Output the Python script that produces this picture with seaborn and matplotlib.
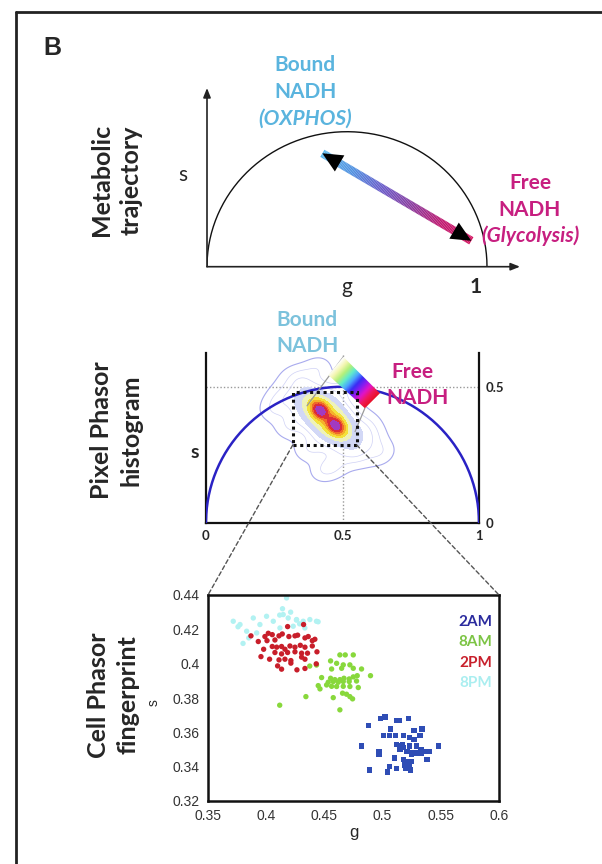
import numpy as np
import pandas as pd
import matplotlib
matplotlib.use("Agg")
import matplotlib.pyplot as plt
import seaborn as sns
from matplotlib.collections import LineCollection
from matplotlib.colors import LinearSegmentedColormap
from matplotlib.lines import Line2D
from matplotlib.patches import Polygon, Rectangle, ConnectionPatch

W, H = 602, 864

# ── Cell phasor fingerprint (g, s) ───────────────────────────────────────────
pts_2am = [(0.498, 0.368), (0.502, 0.369), (0.512, 0.367), (0.514, 0.367), (0.522, 0.368),
           (0.488, 0.364), (0.507, 0.362), (0.527, 0.361), (0.534, 0.362), (0.501, 0.358),
           (0.506, 0.358), (0.511, 0.358), (0.518, 0.358), (0.523, 0.357), (0.527, 0.356),
           (0.532, 0.358), (0.482, 0.352), (0.497, 0.349), (0.497, 0.347), (0.512, 0.353),
           (0.515, 0.352), (0.517, 0.353), (0.518, 0.351), (0.523, 0.352), (0.529, 0.352),
           (0.533, 0.350), (0.537, 0.349), (0.540, 0.349), (0.548, 0.352), (0.515, 0.350),
           (0.521, 0.349), (0.525, 0.348), (0.525, 0.347), (0.529, 0.348), (0.533, 0.348),
           (0.510, 0.345), (0.518, 0.344), (0.521, 0.343), (0.525, 0.343), (0.519, 0.341),
           (0.523, 0.341), (0.520, 0.339), (0.524, 0.338), (0.506, 0.340), (0.512, 0.339),
           (0.504, 0.337), (0.489, 0.338), (0.538, 0.344)]
pts_8am = [(0.4633, 0.4051), (0.4679, 0.4051), (0.4748, 0.4051), (0.4553, 0.4016), (0.4605, 0.4002),
           (0.4662, 0.3993), (0.4719, 0.3993), (0.4648, 0.3973), (0.4748, 0.3973), (0.4819, 0.3969),
           (0.4562, 0.3969), (0.4476, 0.3919), (0.4553, 0.3915), (0.4590, 0.3907), (0.4633, 0.3907),
           (0.4668, 0.3915), (0.4713, 0.3911), (0.4748, 0.3923), (0.4782, 0.3930), (0.4896, 0.3930),
           (0.4533, 0.3892), (0.4576, 0.3896), (0.4619, 0.3892), (0.4662, 0.3896), (0.4713, 0.3896),
           (0.4776, 0.3899), (0.4447, 0.3872), (0.4519, 0.3876), (0.4562, 0.3868), (0.4605, 0.3867),
           (0.4662, 0.3868), (0.4719, 0.3867), (0.4791, 0.3861), (0.4462, 0.3853), (0.4656, 0.3828),
           (0.4690, 0.3822), (0.4719, 0.3808), (0.4341, 0.3808), (0.4576, 0.3802), (0.4742, 0.3795),
           (0.4633, 0.3731), (0.4116, 0.3758), (0.4374, 0.3986), (0.4432, 0.3992)]
pts_2pm = [(0.3869, 0.4162), (0.3932, 0.4129), (0.3989, 0.4158), (0.4018, 0.4177), (0.4052, 0.4169),
           (0.4007, 0.4134), (0.4075, 0.4138), (0.4110, 0.4162), (0.4138, 0.4173), (0.4184, 0.4216),
           (0.4195, 0.4158), (0.4247, 0.4162), (0.4270, 0.4166), (0.4321, 0.4228), (0.4333, 0.4150),
           (0.4361, 0.4158), (0.4396, 0.4134), (0.4418, 0.4142), (0.3978, 0.4084), (0.4052, 0.4100),
           (0.4090, 0.4096), (0.4132, 0.4100), (0.4161, 0.4084), (0.4204, 0.4103), (0.4247, 0.4096),
           (0.4293, 0.4107), (0.4333, 0.4096), (0.4396, 0.4103), (0.4436, 0.4069), (0.4075, 0.4065),
           (0.4132, 0.4057), (0.4184, 0.4065), (0.4247, 0.4069), (0.4304, 0.4061), (0.4355, 0.4061),
           (0.3955, 0.4041), (0.4029, 0.4026), (0.4110, 0.4022), (0.4161, 0.4026), (0.4212, 0.4018),
           (0.4304, 0.4038), (0.4333, 0.4026), (0.4430, 0.3999), (0.4098, 0.3987), (0.4132, 0.3968),
           (0.4212, 0.4003), (0.4264, 0.3964), (0.4333, 0.3972)]
pts_8pm = [(0.4175, 0.4383), (0.3717, 0.4247), (0.3775, 0.4228), (0.3889, 0.4266), (0.4003, 0.4276),
           (0.4061, 0.4247), (0.4146, 0.4286), (0.4189, 0.4266), (0.4261, 0.4257), (0.4318, 0.4247),
           (0.4375, 0.4257), (0.4432, 0.4247), (0.3946, 0.4228), (0.4118, 0.4208), (0.4232, 0.4218),
           (0.4332, 0.4208), (0.3832, 0.4189), (0.3918, 0.4179), (0.3758, 0.4215), (0.3801, 0.4118),
           (0.4116, 0.4283), (0.4260, 0.4254), (0.4446, 0.4244), (0.4140, 0.4320), (0.4210, 0.4300),
           (0.4287, 0.4232), (0.3850, 0.4150)]

time_labels = ["2AM", "8AM", "2PM", "8PM"]
point_colors = {"2AM": "#2f4db5", "8AM": "#88d83c", "2PM": "#c81e2a", "8PM": "#b2f2f2"}
point_markers = {"2AM": "s", "8AM": "o", "2PM": "o", "8PM": "o"}
legend_colors = ["#2b2b9e", "#7cc444", "#c8202c", "#aaeef0"]

# ── Pixel phasor histogram: blob centres (g, s) ──────────────────────────────
core_g = [0.418, 0.475]
core_s = [0.414, 0.357]
body_g, body_s = 0.446, 0.386
haze_g = [0.28, 0.34, 0.41, 0.31, 0.38, 0.47, 0.55, 0.64, 0.50, 0.58, 0.25, 0.43, 0.36, 0.60]
haze_s = [0.46, 0.53, 0.57, 0.36, 0.27, 0.21, 0.26, 0.26, 0.50, 0.35, 0.42, 0.19, 0.44, 0.31]

# cursor box, beam polygon and trajectory arrow
zoom_box = (0.318, 0.286, 0.552, 0.479)          # g0, s0, g1, s1
beam_g = [0.503, 0.637, 0.582, 0.448]
beam_s = [0.610, 0.476, 0.421, 0.543]
traj_tip_bound = (0.412, 0.420)
traj_tip_free = (0.944, 0.096)

sns.set_style("white")
plt.rcParams["font.family"] = ["Lato", "DejaVu Sans"]

fig = plt.figure(figsize=(W / 100, H / 100), dpi=100)


def px_axes(x0, y0, x1, y1):
    return fig.add_axes([x0 / W, 1 - y1 / H, (x1 - x0) / W, (y1 - y0) / H])


def ftext(x, y, s, **kw):
    fig.text(x / W, 1 - y / H, s, **kw)


# outer frame (cut at right/bottom edges)
fig.add_artist(Line2D([16 / W, 16 / W], [0, 1 - 12 / H], color="#222", lw=2))
fig.add_artist(Line2D([16 / W, 1], [1 - 12 / H, 1 - 12 / H], color="#222", lw=2))
ftext(52, 48, "B", fontsize=18, fontweight="bold", family="Liberation Sans", ha="center", va="center")

# ── Panel 1: metabolic trajectory ────────────────────────────────────────────
ax1 = px_axes(207, 88, 520, 266.7)
ax1.set_xlim(0, 313 / 280)
ax1.set_ylim(0, 178.7 / 270)
ax1.axis("off")
arrow_kw = dict(arrowstyle="-|>,head_length=0.55,head_width=0.22", color="#222", lw=1.2,
                shrinkA=0, shrinkB=0)
ax1.annotate("", xy=(313 / 280, 0), xytext=(0, 0), arrowprops=arrow_kw, annotation_clip=False)
ax1.annotate("", xy=(0, 178.7 / 270), xytext=(0, 0), arrowprops=arrow_kw, annotation_clip=False)
theta = np.linspace(0, np.pi, 200)
ax1.plot(0.5 + 0.5 * np.cos(theta), 0.5 * np.sin(theta), color="#111", lw=1)

traj_cmap = LinearSegmentedColormap.from_list(
    "traj", ["#5ab8ec", "#4f8fe0", "#6a5ac8", "#8a3a9c", "#c0186e", "#d4105e"])
t = np.linspace(0, 1, 120)
xs = traj_tip_bound[0] + t * (traj_tip_free[0] - traj_tip_bound[0])
ys = traj_tip_bound[1] + t * (traj_tip_free[1] - traj_tip_bound[1])
segs = np.stack([np.column_stack([xs[:-1], ys[:-1]]), np.column_stack([xs[1:], ys[1:]])], axis=1)
lc = LineCollection(segs, colors=traj_cmap(t[:-1]), lw=6, capstyle="butt")
ax1.add_collection(lc)
head_kw = dict(arrowstyle="-|>,head_length=0.9,head_width=0.42", color="black", lw=0,
               mutation_scale=16, shrinkA=0, shrinkB=0)
d = np.array(traj_tip_free) - np.array(traj_tip_bound)
ax1.annotate("", xy=traj_tip_bound, xytext=tuple(np.array(traj_tip_bound) + 0.1 * d), arrowprops=head_kw)
ax1.annotate("", xy=traj_tip_free, xytext=tuple(np.array(traj_tip_free) - 0.1 * d), arrowprops=head_kw)

ftext(183, 175, "s", fontsize=15, ha="center", va="center")
ftext(347, 287, "g", fontsize=15, ha="center", va="center")
ftext(476, 287, "1", fontsize=15, ha="center", va="center", fontweight="bold")
ftext(305, 65, "Bound", fontsize=15, fontweight="bold", color="#5ab4de", ha="center", va="center")
ftext(305, 92, "NADH", fontsize=15, fontweight="bold", color="#5ab4de", ha="center", va="center")
ftext(305, 119, "(OXPHOS)", fontsize=15, fontweight="bold", style="italic", color="#5ab4de",
      ha="center", va="center")
ftext(530, 183, "Free", fontsize=15, fontweight="bold", color="#c71f80", ha="center", va="center")
ftext(530, 210, "NADH", fontsize=15, fontweight="bold", color="#c71f80", ha="center", va="center")
ftext(530, 236, "(Glycolysis)", fontsize=15, fontweight="bold", style="italic", color="#c71f80",
      ha="center", va="center")
ftext(116, 180, "Metabolic\ntrajectory", fontsize=18, fontweight="bold", rotation=90,
      ha="center", va="center", linespacing=1.35)

# ── Panel 2: pixel phasor histogram ──────────────────────────────────────────
ax2 = px_axes(206, 353.3, 479, 522.7)
ax2.set_xlim(0, 1)
ax2.set_ylim(0, 0.623)
for side in ["left", "right", "bottom"]:
    ax2.spines[side].set_color("#111")
    ax2.spines[side].set_linewidth(1.6)
ax2.spines["top"].set_visible(False)
ax2.set_xticks([0, 0.5, 1])
ax2.set_xticklabels(["0", "0.5", "1"], fontweight="bold", fontsize=9.5)
ax2.yaxis.tick_right()
ax2.set_yticks([0, 0.5])
ax2.set_yticklabels(["0", "0.5"], fontweight="bold", fontsize=9.5)
ax2.tick_params(length=0, pad=5)

ax2.axhline(0.5, color="#999", lw=1, ls=(0, (1, 1.5)))
ax2.axvline(0.5, color="#999", lw=1, ls=(0, (1, 1.5)))
ax2.plot(0.5 + 0.5 * np.cos(theta), 0.5 * np.sin(theta), color="#2a22c4", lw=1.8, zorder=3)


def blob(X, Y, g0, s0, sa, sb, ang=-np.pi / 4):
    c, sn = np.cos(ang), np.sin(ang)
    u = (X - g0) * c + (Y - s0) * sn
    v = -(X - g0) * sn + (Y - s0) * c
    return np.exp(-0.5 * (u / sa) ** 2 - 0.5 * (v / sb) ** 2)


gx, gy = np.meshgrid(np.linspace(0.1, 0.8, 420), np.linspace(0.05, 0.65, 420))
Z = 0.45 * blob(gx, gy, body_g, body_s, 0.085, 0.045)
for g0, s0 in zip(core_g, core_s):
    Z += blob(gx, gy, g0, s0, 0.024, 0.018)
Z += 0.05 * blob(gx, gy, 0.44, 0.38, 0.17, 0.11, -0.5)
for g0, s0 in zip(haze_g, haze_s):
    Z += 0.045 * blob(gx, gy, g0, s0, 0.036, 0.030, 0.3)
Z /= Z.max()
ax2.contour(gx, gy, Z, levels=[0.022], colors="#a9abee", linewidths=0.8, zorder=2)
ax2.contour(gx, gy, Z, levels=[0.05, 0.08], colors="#cfd1f5", linewidths=0.5, zorder=2)
fill_levels = [0.12, 0.19, 0.28, 0.4, 0.53, 0.66, 0.82, 1.01]
fill_colors = ["#d2d8f6", "#eef2b8", "#f3e23c", "#f5b02c", "#f06a2a", "#dc2c3a", "#a23ac0"]
ax2.contourf(gx, gy, Z, levels=fill_levels, colors=fill_colors, zorder=2)

# beam with rainbow gradient
beam = Polygon(np.column_stack([beam_g, beam_s]), closed=True, fc="none", ec="none")
ax2.add_patch(beam)
bx, by = np.meshgrid(np.linspace(0.44, 0.64, 200), np.linspace(0.41, 0.62, 200))
p0 = np.array([(beam_g[0] + beam_g[3]) / 2, (beam_s[0] + beam_s[3]) / 2])
p1 = np.array([(beam_g[1] + beam_g[2]) / 2, (beam_s[1] + beam_s[2]) / 2])
dv = p1 - p0
tt = ((bx - p0[0]) * dv[0] + (by - p0[1]) * dv[1]) / (dv @ dv)
beam_cmap = LinearSegmentedColormap.from_list(
    "beam", ["#ffffff", "#f4f6b0", "#b4f07a", "#60eccc", "#4aa4ff", "#3a2cf4",
             "#8a1cf0", "#e014c8", "#f0185a", "#e81028"])
im = ax2.imshow(np.clip(tt, 0, 1), extent=(0.44, 0.64, 0.41, 0.62), origin="lower",
                cmap=beam_cmap, aspect="auto", zorder=4, interpolation="bilinear")
im.set_clip_path(beam)
ax2.plot([beam_g[0], 0.37], [beam_s[0], 0.43], color="#9a9a9a", lw=0.9, zorder=3)
ax2.plot([beam_g[2], 0.546], [beam_s[2], 0.335], color="#9a9a9a", lw=0.9, zorder=3)

ax2.add_patch(Rectangle((zoom_box[0], zoom_box[1]), zoom_box[2] - zoom_box[0],
                        zoom_box[3] - zoom_box[1], fill=False, ec="#111", lw=2.2,
                        ls=(0, (1, 1.2)), zorder=5))

ftext(307, 320, "Bound", fontsize=15, fontweight="bold", color="#7cc2dc", ha="center", va="center")
ftext(307, 346, "NADH", fontsize=15, fontweight="bold", color="#7cc2dc", ha="center", va="center")
ftext(412, 372, "Free", fontsize=15, fontweight="bold", color="#c71f80", ha="center", va="center")
ftext(418, 398, "NADH", fontsize=15, fontweight="bold", color="#c71f80", ha="center", va="center")
ftext(195, 452, "s", fontsize=14, fontweight="bold", ha="center", va="center")
ftext(116, 430, "Pixel Phasor\nhistogram", fontsize=18, fontweight="bold", rotation=90,
      ha="center", va="center", linespacing=1.35)

# ── Panel 3: cell phasor fingerprint ─────────────────────────────────────────
ax3 = px_axes(208, 595, 499, 801)
rows = []
for lab, pts in zip(["8PM", "8AM", "2PM", "2AM"], [pts_8pm, pts_8am, pts_2pm, pts_2am]):
    rows += [{"g": g, "s": s, "time": lab} for g, s in pts]
df = pd.DataFrame(rows)
sns.scatterplot(data=df, x="g", y="s", hue="time", style="time", palette=point_colors,
                markers=point_markers, s=15, linewidth=0, legend=False, ax=ax3)
ax3.set_xlim(0.35, 0.6)
ax3.set_ylim(0.32, 0.44)
ax3.set_xticks([0.35, 0.4, 0.45, 0.5, 0.55, 0.6])
ax3.set_xticklabels(["0.35", "0.4", "0.45", "0.5", "0.55", "0.6"])
ax3.set_yticks([0.32, 0.34, 0.36, 0.38, 0.4, 0.42, 0.44])
ax3.set_yticklabels(["0.32", "0.34", "0.36", "0.38", "0.4", "0.42", "0.44"])
for lbl in ax3.get_xticklabels() + ax3.get_yticklabels():
    lbl.set_family("Liberation Sans")
    lbl.set_fontsize(10)
    lbl.set_color("#333")
ax3.tick_params(direction="out", length=3, width=1, color="#333", pad=3)
for side in ax3.spines.values():
    side.set_color("#111")
    side.set_linewidth(1.8)
ax3.set_xlabel("g", family="Liberation Sans", fontsize=12, labelpad=1)
ax3.set_ylabel("")
ftext(154, 703, "s", fontsize=10, family="Liberation Sans", rotation=90, ha="center", va="center")
for i, (lab, col) in enumerate(zip(time_labels, legend_colors)):
    ax3.text(0.594, 0.4245 - i * 0.0120, lab, color=col, fontsize=11, fontweight="bold",
             ha="right", va="center")
ftext(113, 695, "Cell Phasor\nfingerprint", fontsize=18, fontweight="bold", rotation=90,
      ha="center", va="center", linespacing=1.35)

# dashed zoom connectors
for gm, gb in [(zoom_box[0], 0.35), (zoom_box[2], 0.6)]:
    con = ConnectionPatch(xyA=(gm, zoom_box[1]), coordsA=ax2.transData,
                          xyB=(gb, 0.44), coordsB=ax3.transData,
                          color="#555", lw=1, ls=(0, (3, 2)))
    fig.add_artist(con)

fig.savefig("out.png", dpi=100)
